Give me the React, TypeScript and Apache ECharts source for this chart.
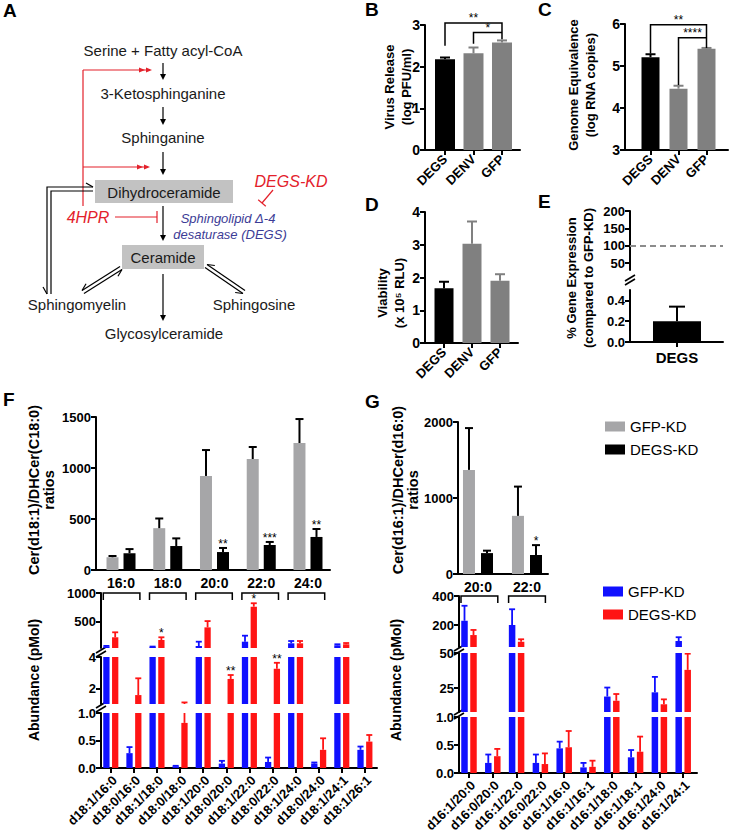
import React, { useEffect, useRef } from 'react';
import * as echarts from 'echarts';

const FONT = '"Liberation Sans", Arial, Helvetica, sans-serif';

/* ====================== DATA ====================== */
// Panels B, C, D
const knockdownCategories = ['DEGS', 'DENV', 'GFP'];
const virusRelease = [2.18, 2.32, 2.58];
const virusReleaseErr = [0.04, 0.14, 0.05];
const genomeEquivalence = [5.21, 4.46, 5.41];
const genomeEquivalenceErr = [0.07, 0.07, 0.02];
const viability = [1.67, 3.03, 1.9];
const viabilityErr = [0.2, 0.68, 0.2];
// significance brackets: [fromCat, toCat, level, leftEnd, rightEnd]
const virusSigBrackets = [[1, 3, 3.05, 2.5, 2.66], [2, 3, 2.82, 2.55, 2.82]];
const virusSigLabels = ['**', '*'];
const genomeSigBrackets = [[1, 3, 5.98, 5.3, 5.43], [2, 3, 5.67, 4.55, 5.67]];
const genomeSigLabels = ['**', '****'];

// Panel E
const expressionCategories = ['DEGS'];
const geneExpression = [0.2];
const geneExpressionErr = [0.14];
const expressionReference = [100];
const expressionUpperTicks = [50, 100, 150, 200];
const expressionLowerTicks = [0, 0.2, 0.4];

// Panel F (top): ratios
const fRatioCategories = ['16:0', '18:0', '20:0', '22:0', '24:0'];
const fRatioGFP = [125, 410, 922, 1088, 1245];
const fRatioGFPErr = [12, 95, 254, 118, 235];
const fRatioDEGS = [165, 235, 176, 245, 324];
const fRatioDEGSErr = [40, 75, 40, 30, 78];
const fRatioStars = ['', '', '**', '***', '**'];

// Panel F (bottom): abundance
const fSpecies = ['d18:1/16:0', 'd18:0/16:0', 'd18:1/18:0', 'd18:0/18:0', 'd18:1/20:0', 'd18:0/20:0',
  'd18:1/22:0', 'd18:0/22:0', 'd18:1/24:0', 'd18:0/24:0', 'd18:1/24:1', 'd18:1/26:1'];
const fAbundGFP = [65, 0.27, 60, 0.03, 75, 0.08, 150, 0.11, 122, 0.08, 87, 0.33];
const fAbundGFPErr = [12, 0.11, 5, 0.01, 75, 0.05, 105, 0.08, 40, 0.02, 18, 0.06];
const fAbundDEGS = [227, 1.57, 180, 0.82, 400, 2.6, 761, 3.25, 122, 0.33, 105, 0.48];
const fAbundDEGSErr = [87, 1.07, 47, 0.28, 110, 0.25, 60, 0.38, 40, 0.21, 22, 0.12];
const fAbundStars = ['', '', '*', '', '', '**', '*', '**', '', '', '', ''];
const fGroupPairs = [[1, 2], [3, 4], [5, 6], [7, 8], [9, 10]];
const fAbundTopTicks = [500, 1000];
const fAbundMidTicks = [2, 4];

// Panel G (top): ratios
const gRatioCategories = ['20:0', '22:0'];
const gRatioGFP = [1370, 765];
const gRatioGFPErr = [550, 385];
const gRatioDEGS = [275, 250];
const gRatioDEGSErr = [32, 130];
const gRatioStars = ['', '*'];

// Panel G (bottom): abundance
const gSpecies = ['d16:1/20:0', 'd16:0/20:0', 'd16:1/22:0', 'd16:0/22:0', 'd16:1/16:0', 'd16:1/16:1',
  'd16:1/18:0', 'd16:1/18:1', 'd16:1/24:0', 'd16:1/24:1'];
const gAbundGFP = [230, 0.18, 201, 0.18, 0.44, 0.1, 19, 0.28, 22, 91];
const gAbundGFPErr = [103, 0.15, 108, 0.15, 0.12, 0.08, 6.4, 0.13, 11, 26];
const gAbundDEGS = [132, 0.3, 86, 0.16, 0.46, 0.11, 16, 0.38, 13.5, 38];
const gAbundDEGSErr = [35, 0.13, 17, 0.19, 0.29, 0.11, 4.8, 0.27, 3.5, 11.5];
const gGroupPairs = [[1, 2], [3, 4]];
const gAbundTopTicks = [200, 400];
const gAbundMidTicks = [25, 50];

/* ====================== STYLE ====================== */
const BLACK = '#000000';
const GRAY_DARK = '#808080';
const GRAY_LIGHT = '#a6a6a8';
const BLUE = '#1010ff';
const RED = '#ff1414';
const PATH_RED = '#e3212b';
const PATH_BLUE = '#3c3c96';
const BOX = '#c2c2c2';
const knockdownColors = [BLACK, GRAY_DARK, GRAY_DARK];

/* ====================== HELPERS ====================== */
function grid(left: number, top: number, width: number, height: number) {
  return { left, top, width, height, containLabel: false, outerBoundsMode: 'none' };
}

function catX(gi: number, min: number, max: number, cats: string[], o: any = {}) {
  const idx = cats.map((_, i) => i + 1);
  return {
    type: 'value', gridIndex: gi, min, max,
    splitLine: { show: false },
    axisLine: { show: true, onZero: false, lineStyle: { color: '#000', width: 2 } },
    axisTick: { show: o.ticks !== false, customValues: idx, length: 5, lineStyle: { color: '#000', width: 2 } },
    axisLabel: {
      show: o.labels !== false, customValues: idx,
      formatter: (v: number) => cats[Math.round(v) - 1] ?? '',
      rotate: o.rotate ?? 0, margin: o.margin ?? 6,
      color: '#000', fontFamily: FONT, fontWeight: 'bold', fontSize: o.fontSize ?? 13,
    },
  };
}

function hiddenX(gi: number, min: number, max: number) {
  return { type: 'value', gridIndex: gi, min, max, show: false, splitLine: { show: false } };
}

function valY(gi: number, min: number, max: number, o: any = {}) {
  const label: any = {
    color: '#000', fontFamily: FONT, fontWeight: 'bold', fontSize: o.fontSize ?? 13, margin: o.margin ?? 5,
    formatter: o.fmt ?? ((v: number) => String(v)),
  };
  const tick: any = { show: true, length: 5, lineStyle: { color: '#000', width: 2 } };
  if (o.ticks) { label.customValues = o.ticks; tick.customValues = o.ticks; }
  return {
    type: 'value', gridIndex: gi, min, max, interval: o.interval,
    splitLine: { show: false },
    axisLine: { show: true, onZero: false, lineStyle: { color: '#000', width: 2 } },
    axisTick: tick, axisLabel: label,
  };
}

function bars(gi: number, name: string, xs: number[], vals: number[], color: any, width: number, extra: any = {}) {
  return {
    type: 'bar', name, xAxisIndex: gi, yAxisIndex: gi, barWidth: width, barGap: '-100%', silent: true,
    itemStyle: { color: Array.isArray(color) ? color[0] : color },
    data: vals.map((v, i) => (Array.isArray(color)
      ? { value: [xs[i], v], itemStyle: { color: color[i] } }
      : [xs[i], v])),
    ...extra,
  };
}

// error bars, clipped by value to the [lo, hi] range of the segment they are drawn in
function errs(gi: number, xs: number[], vals: number[], e: number[], color: any, capW: number, lw: number, range: number[]) {
  return {
    type: 'custom', xAxisIndex: gi, yAxisIndex: gi, clip: true, silent: true, z: 3,
    data: vals.map((v, i) => [xs[i], v, e[i]]),
    renderItem: (params: any, api: any) => {
      const i = params.dataIndex;
      const x = xs[i], v = vals[i], top = vals[i] + e[i];
      const lo = Math.max(v, range[0]);
      const hi = Math.min(top, range[1]);
      const c = Array.isArray(color) ? color[i] : color;
      const children: any[] = [];
      if (hi > lo) {
        const p0 = api.coord([x, lo]);
        const p1 = api.coord([x, hi]);
        children.push({ type: 'line', shape: { x1: p0[0], y1: p0[1], x2: p1[0], y2: p1[1] }, style: { stroke: c, lineWidth: lw } });
      }
      if (top >= range[0] && top <= range[1]) {
        const p1 = api.coord([x, top]);
        children.push({ type: 'line', shape: { x1: p1[0] - capW / 2, y1: p1[1], x2: p1[0] + capW / 2, y2: p1[1] }, style: { stroke: c, lineWidth: lw } });
      }
      return { type: 'group', children };
    },
  };
}

function stars(gi: number, xs: number[], vals: number[], e: number[], labels: string[], range: number[]) {
  return {
    type: 'custom', xAxisIndex: gi, yAxisIndex: gi, clip: false, silent: true, z: 4,
    data: vals.map((v, i) => [xs[i], v + e[i]]),
    renderItem: (params: any, api: any) => {
      const i = params.dataIndex;
      const top = vals[i] + e[i];
      if (!labels[i] || top < range[0] || top > range[1]) return { type: 'group', children: [] };
      const p = api.coord([xs[i], top]);
      return {
        type: 'text', x: p[0], y: p[1] + 2,
        style: { text: labels[i], fill: '#000', fontSize: 12, fontFamily: FONT, textAlign: 'center', textVerticalAlign: 'bottom' },
      };
    },
  };
}

function sigSeries(gi: number, brackets: number[][], labels: string[]) {
  return {
    type: 'custom', xAxisIndex: gi, yAxisIndex: gi, clip: false, silent: true, z: 4,
    data: brackets,
    renderItem: (params: any, api: any) => {
      const i = params.dataIndex;
      const [a, b, lvl, ya, yb] = brackets[i];
      const pA = api.coord([a, ya]);
      const pTL = api.coord([a, lvl]);
      const pTR = api.coord([b, lvl]);
      const pB = api.coord([b, yb]);
      return {
        type: 'group', children: [
          { type: 'polyline', shape: { points: [pA, pTL, pTR, pB] }, style: { stroke: '#000', lineWidth: 1.5, fill: 'none' } },
          { type: 'text', x: (pTL[0] + pTR[0]) / 2, y: pTL[1] + 1, style: { text: labels[i], fill: '#000', fontSize: 12, fontFamily: FONT, textAlign: 'center', textVerticalAlign: 'bottom' } },
        ],
      };
    },
  };
}

function groupBrackets(gi: number, pairs: number[][], level: number, leftPad: number, rightPad: number) {
  return {
    type: 'custom', xAxisIndex: gi, yAxisIndex: gi, clip: false, silent: true, z: 4,
    data: pairs,
    renderItem: (params: any, api: any) => {
      const [a, b] = pairs[params.dataIndex];
      const pa = api.coord([a, level]);
      const pb = api.coord([b, level]);
      const x1 = pa[0] - leftPad, x2 = pb[0] + rightPad, y = pa[1];
      return { type: 'polyline', shape: { points: [[x1, y + 7], [x1, y], [x2, y], [x2, y + 7]] }, style: { stroke: '#000', lineWidth: 1.5, fill: 'none' } };
    },
  };
}

// 45-degree category labels under an abundance axis
function rotLabels(gi: number, cats: string[], base: number) {
  return {
    type: 'custom', xAxisIndex: gi, yAxisIndex: gi, clip: false, silent: true, z: 5,
    data: cats.map((_, i) => [i + 1, base]),
    renderItem: (params: any, api: any) => {
      const i = params.dataIndex;
      const p = api.coord([i + 1, base]);
      return {
        type: 'text', x: p[0] + 4, y: p[1] + 10, rotation: Math.PI / 4,
        style: { text: cats[i], fill: '#000', fontSize: 13, fontWeight: 'bold', fontFamily: FONT, textAlign: 'right', textVerticalAlign: 'middle' },
      };
    },
  };
}

/* ---- graphic helpers (pathway diagram & decorations) ---- */
function txt(text: string, x: number, y: number, o: any = {}) {
  return {
    type: 'text', x, y, silent: true, rotation: o.rot ?? 0,
    style: {
      text, fill: o.fill ?? '#1a1a1a', fontSize: o.size ?? 15, fontFamily: FONT,
      fontWeight: o.weight ?? 'normal', fontStyle: o.style ?? 'normal',
      textAlign: o.align ?? 'center', textVerticalAlign: o.valign ?? 'middle', lineHeight: o.lh,
    },
  };
}
function ln(x1: number, y1: number, x2: number, y2: number, stroke = '#000', w = 1.2) {
  return { type: 'line', silent: true, shape: { x1, y1, x2, y2 }, style: { stroke, lineWidth: w } };
}
function pl(points: number[][], stroke = '#000', w = 1.2) {
  return { type: 'polyline', silent: true, shape: { points }, style: { stroke, lineWidth: w, fill: 'none' } };
}
function tri(points: number[][], fill: string) {
  return { type: 'polygon', silent: true, shape: { points }, style: { fill } };
}
function arrowDown(x: number, y1: number, y2: number) {
  return [ln(x, y1, x, y2 - 5), tri([[x - 3, y2 - 6], [x + 3, y2 - 6], [x, y2]], '#000')];
}
function redDoubleHead(xEnd: number, y: number) {
  return [
    tri([[xEnd, y], [xEnd - 6, y - 2.6], [xEnd - 6, y + 2.6]], PATH_RED),
    tri([[xEnd - 7, y], [xEnd - 13, y - 2.6], [xEnd - 13, y + 2.6]], PATH_RED),
  ];
}
function eqArrow(x1: number, y1: number, x2: number, y2: number) {
  const dx = x2 - x1, dy = y2 - y1, L = Math.hypot(dx, dy);
  const ux = dx / L, uy = dy / L;
  const nx = -uy * 1.8, ny = ux * 1.8;
  const a1 = [x1 + nx, y1 + ny], a2 = [x2 + nx, y2 + ny];
  const b1 = [x1 - nx, y1 - ny], b2 = [x2 - nx, y2 - ny];
  const barbA = [a2[0] - ux * 7 + nx * 2, a2[1] - uy * 7 + ny * 2];
  const barbB = [b1[0] + ux * 7 - nx * 2, b1[1] + uy * 7 - ny * 2];
  return [
    ln(a1[0], a1[1], a2[0], a2[1]), ln(b1[0], b1[1], b2[0], b2[1]),
    ln(a2[0], a2[1], barbA[0], barbA[1]), ln(b1[0], b1[1], barbB[0], barbB[1]),
  ];
}
function brk(x: number, y: number) {
  return [
    { type: 'rect', silent: true, shape: { x: x - 6, y: y - 3, width: 12, height: 6 }, style: { fill: '#fff' } },
    ln(x - 5, y + 1, x + 5, y - 5, '#000', 1.6),
    ln(x - 5, y + 5, x + 5, y - 1, '#000', 1.6),
  ];
}
function yTitle(text: string, x: number, y: number, size = 13, lh = 17) {
  return txt(text, x, y, { rot: Math.PI / 2, size, weight: 'bold', fill: '#000', lh });
}
function letter(t: string, x: number, y: number) {
  return txt(t, x, y, { size: 19, weight: 'bold', fill: '#000', align: 'left', valign: 'top' });
}

/* ====================== OPTION ====================== */
function buildOption() {
  const grids = [
    grid(425, 25, 95, 125),   // 0 B
    grid(625, 24, 103, 126),  // 1 C
    grid(425, 212, 93, 131),  // 2 D
    grid(630, 211, 93, 59),   // 3 E upper
    grid(630, 290, 93, 52),   // 4 E lower
    grid(96, 417, 234, 153),  // 5 F ratio
    grid(101, 593, 276, 55),  // 6 F abundance top
    grid(101, 657, 276, 47),  // 7 F abundance mid
    grid(101, 713, 276, 55),  // 8 F abundance low
    grid(458, 422, 90, 152),  // 9 G ratio
    grid(459, 596, 238, 51),  // 10 G abundance top
    grid(459, 653, 238, 59),  // 11 G abundance mid
    grid(459, 717, 238, 56),  // 12 G abundance low
  ];

  const XB = [0.298, 3.632], XC = [0.089, 3.768], XD = [0.321, 3.643], XE = [0, 1.979];
  const XF1 = [0.465, 5.471], XF2 = [0.576, 12.524], XG1 = [0.592, 2.429], XG2 = [0.58, 10.58];
  const OFF_F1 = 0.182, OFF_F2 = 0.19, OFF_G1 = 0.184, OFF_G2 = 0.189;

  const xAxis = [
    catX(0, XB[0], XB[1], knockdownCategories, { rotate: 45, margin: 7 }),
    catX(1, XC[0], XC[1], knockdownCategories, { rotate: 45, margin: 7 }),
    catX(2, XD[0], XD[1], knockdownCategories, { rotate: 45, margin: 7 }),
    hiddenX(3, XE[0], XE[1]),
    catX(4, XE[0], XE[1], expressionCategories, { fontSize: 15, margin: 8 }),
    catX(5, XF1[0], XF1[1], fRatioCategories, { ticks: false, fontSize: 14, margin: 6 }),
    hiddenX(6, XF2[0], XF2[1]),
    hiddenX(7, XF2[0], XF2[1]),
    catX(8, XF2[0], XF2[1], fSpecies, { labels: false }),
    catX(9, XG1[0], XG1[1], gRatioCategories, { ticks: false, fontSize: 14, margin: 6 }),
    hiddenX(10, XG2[0], XG2[1]),
    hiddenX(11, XG2[0], XG2[1]),
    catX(12, XG2[0], XG2[1], gSpecies, { labels: false }),
  ];

  const one = (v: number) => v.toFixed(1);
  const fRanges = [[40, 1000], [1, 4], [0, 1]];
  const gRanges = [[50, 400], [8, 50], [0, 1]];
  const yAxis = [
    valY(0, 0, 3, { interval: 1, fontSize: 14 }),
    valY(1, 3, 6, { interval: 1, fontSize: 14 }),
    valY(2, 0, 4, { interval: 1, fontSize: 14 }),
    valY(3, 30, 200, { ticks: expressionUpperTicks, fontSize: 13 }),
    valY(4, 0, 0.5, { ticks: expressionLowerTicks, fontSize: 13, fmt: one }),
    valY(5, 0, 1500, { interval: 500 }),
    valY(6, fRanges[0][0], fRanges[0][1], { ticks: fAbundTopTicks }),
    valY(7, fRanges[1][0], fRanges[1][1], { ticks: fAbundMidTicks }),
    valY(8, fRanges[2][0], fRanges[2][1], { interval: 0.5, fmt: one }),
    valY(9, 0, 2000, { interval: 1000 }),
    valY(10, gRanges[0][0], gRanges[0][1], { ticks: gAbundTopTicks }),
    valY(11, gRanges[1][0], gRanges[1][1], { ticks: gAbundMidTicks }),
    valY(12, gRanges[2][0], gRanges[2][1], { interval: 0.5, fmt: one }),
  ];

  const xsK = knockdownCategories.map((_, i) => i + 1);
  const xsE = expressionCategories.map((_, i) => i + 1);
  const xsF1g = fRatioCategories.map((_, i) => i + 1 - OFF_F1);
  const xsF1d = fRatioCategories.map((_, i) => i + 1 + OFF_F1);
  const xsF2g = fSpecies.map((_, i) => i + 1 - OFF_F2);
  const xsF2d = fSpecies.map((_, i) => i + 1 + OFF_F2);
  const xsG1g = gRatioCategories.map((_, i) => i + 1 - OFF_G1);
  const xsG1d = gRatioCategories.map((_, i) => i + 1 + OFF_G1);
  const xsG2g = gSpecies.map((_, i) => i + 1 - OFF_G2);
  const xsG2d = gSpecies.map((_, i) => i + 1 + OFF_G2);

  const series: any[] = [];
  // B
  series.push(bars(0, 'B', xsK, virusRelease, knockdownColors, 20));
  series.push(errs(0, xsK, virusRelease, virusReleaseErr, knockdownColors, 10, 2, [0, 3]));
  series.push(sigSeries(0, virusSigBrackets, virusSigLabels));
  // C
  series.push(bars(1, 'C', xsK, genomeEquivalence, knockdownColors, 18));
  series.push(errs(1, xsK, genomeEquivalence, genomeEquivalenceErr, knockdownColors, 10, 2, [3, 6]));
  series.push(sigSeries(1, genomeSigBrackets, genomeSigLabels));
  // D
  series.push(bars(2, 'D', xsK, viability, knockdownColors, 19));
  series.push(errs(2, xsK, viability, viabilityErr, knockdownColors, 10, 2, [0, 4]));
  // E
  series.push(bars(3, 'E', xsE, geneExpression, BLACK, 48, {
    markLine: {
      silent: true, symbol: ['none', 'none'], label: { show: false },
      lineStyle: { type: [6, 4], color: '#8c8c8c', width: 2 },
      data: expressionReference.map((v) => ({ yAxis: v })),
    },
  }));
  series.push(bars(4, 'E', xsE, geneExpression, BLACK, 48));
  series.push(errs(4, xsE, geneExpression, geneExpressionErr, BLACK, 16, 2, [0, 0.5]));
  // F ratio
  series.push(bars(5, 'GFP-KD', xsF1g, fRatioGFP, GRAY_LIGHT, 12));
  series.push(bars(5, 'DEGS-KD', xsF1d, fRatioDEGS, BLACK, 12));
  series.push(errs(5, xsF1g, fRatioGFP, fRatioGFPErr, BLACK, 8, 2, [0, 1500]));
  series.push(errs(5, xsF1d, fRatioDEGS, fRatioDEGSErr, BLACK, 8, 2, [0, 1500]));
  series.push(stars(5, xsF1d, fRatioDEGS, fRatioDEGSErr, fRatioStars, [0, 1500]));
  // F abundance (3 segments)
  [6, 7, 8].forEach((gi, k) => {
    series.push(bars(gi, 'GFP-KD ', xsF2g, fAbundGFP, BLUE, 6.3));
    series.push(bars(gi, 'DEGS-KD ', xsF2d, fAbundDEGS, RED, 6.3));
    series.push(errs(gi, xsF2g, fAbundGFP, fAbundGFPErr, BLUE, 6, 1.8, fRanges[k]));
    series.push(errs(gi, xsF2d, fAbundDEGS, fAbundDEGSErr, RED, 6, 1.8, fRanges[k]));
    series.push(stars(gi, xsF2d, fAbundDEGS, fAbundDEGSErr, fAbundStars, fRanges[k]));
  });
  series.push(groupBrackets(6, fGroupPairs, 1000, 7.5, 6));
  series.push(rotLabels(8, fSpecies, 0));
  // G ratio
  series.push(bars(9, 'GFP-KD', xsG1g, gRatioGFP, GRAY_LIGHT, 12));
  series.push(bars(9, 'DEGS-KD', xsG1d, gRatioDEGS, BLACK, 12));
  series.push(errs(9, xsG1g, gRatioGFP, gRatioGFPErr, BLACK, 8, 2, [0, 2000]));
  series.push(errs(9, xsG1d, gRatioDEGS, gRatioDEGSErr, BLACK, 8, 2, [0, 2000]));
  series.push(stars(9, xsG1d, gRatioDEGS, gRatioDEGSErr, gRatioStars, [0, 2000]));
  // G abundance (3 segments)
  [10, 11, 12].forEach((gi, k) => {
    series.push(bars(gi, 'GFP-KD ', xsG2g, gAbundGFP, BLUE, 6.5));
    series.push(bars(gi, 'DEGS-KD ', xsG2d, gAbundDEGS, RED, 6.5));
    series.push(errs(gi, xsG2g, gAbundGFP, gAbundGFPErr, BLUE, 6, 1.8, gRanges[k]));
    series.push(errs(gi, xsG2d, gAbundDEGS, gAbundDEGSErr, RED, 6, 1.8, gRanges[k]));
  });
  series.push(groupBrackets(10, gGroupPairs, 400, 8, 5));
  series.push(rotLabels(12, gSpecies, 0));

  const legendText = { fontFamily: FONT, fontSize: 15, color: '#000' };
  const legend = [
    {
      data: ['GFP-KD', 'DEGS-KD'], left: 605, top: 419, orient: 'vertical', icon: 'rect',
      itemWidth: 20, itemHeight: 10, itemGap: 8, padding: 0, selectedMode: false, textStyle: legendText,
    },
    {
      data: ['GFP-KD ', 'DEGS-KD '], left: 603, top: 584, orient: 'vertical', icon: 'rect',
      itemWidth: 20, itemHeight: 10, itemGap: 8, padding: 0, selectedMode: false, textStyle: legendText,
      formatter: (n: string) => n.trim(),
    },
  ];

  /* ---- pathway diagram (panel A) ---- */
  const A: any[] = [
    { type: 'rect', silent: true, shape: { x: 95, y: 180, width: 138, height: 23 }, style: { fill: BOX } },
    { type: 'rect', silent: true, shape: { x: 122, y: 245, width: 82, height: 24 }, style: { fill: BOX } },
    txt('Serine + Fatty acyl-CoA', 163, 50),
    txt('3-Ketosphinganine', 163, 93),
    txt('Sphinganine', 163, 137),
    txt('Dihydroceramide', 164, 192),
    txt('Ceramide', 163, 257),
    txt('Sphingomyelin', 77, 304),
    txt('Sphingosine', 254, 304),
    txt('Glycosylceramide', 164, 333),
    txt('4HPR', 88, 217, { fill: PATH_RED, size: 16, style: 'italic' }),
    txt('DEGS-KD', 291, 181, { fill: PATH_RED, size: 16, style: 'italic' }),
    txt('Sphingolipid Δ-4', 228, 218, { fill: PATH_BLUE, size: 13, style: 'italic' }),
    txt('desaturase (DEGS)', 230, 234, { fill: PATH_BLUE, size: 13, style: 'italic' }),
    ...arrowDown(163, 63, 80),
    ...arrowDown(163, 107, 125),
    ...arrowDown(163, 152, 175),
    ...arrowDown(163, 206, 241),
    ...arrowDown(163, 274, 321),
    // red feedback
    ln(83, 70, 83, 206, PATH_RED),
    ln(83, 70, 150, 70, PATH_RED), ...redDoubleHead(152, 70),
    ln(83, 167, 148, 167, PATH_RED), ...redDoubleHead(150, 167),
    // 4HPR inhibition
    ln(115, 217, 157, 217, PATH_RED), ln(157, 211, 157, 223, PATH_RED),
    // DEGS-KD inhibition
    ln(273, 190, 262, 203, PATH_RED), ln(258.2, 199.8, 265.8, 206.2, PATH_RED),
    // Dihydroceramide <-> Sphingomyelin
    pl([[93, 187], [47, 187], [47, 294]]),
    pl([[93, 191], [51, 191], [51, 294]]),
    ln(93, 187, 86, 183),
    ln(47, 294, 43, 287),
    // Ceramide <-> Sphingomyelin / Sphingosine
    ...eqArrow(121, 268, 83, 292),
    ...eqArrow(206, 266, 244, 292),
  ];

  const deco: any[] = [
    letter('A', 3, 1), letter('B', 365, 0), letter('C', 538, 0), letter('D', 365, 195),
    letter('E', 538, 192), letter('F', 3, 390), letter('G', 365, 392),
    yTitle('Virus Release\n(log PFU/ml)', 398, 87),
    yTitle('Genome Equivalence\n(log RNA copies)', 582, 85),
    yTitle('Viability\n(x 10⁵ RLU)', 391, 293),
    yTitle('% Gene Expression\n(compared to GFP-KD)', 580, 278),
    yTitle('Cer(d18:1)/DHCer(C18:0)\nratios', 41, 490, 14.5, 15),
    yTitle('Abundance (pMol)', 34, 680, 14),
    yTitle('Cer(d16:1)/DHCer(d16:0)\nratios', 405, 490, 14.5, 15),
    yTitle('Abundance (pMol)', 396, 680, 14),
    ...brk(630, 280),
    ...brk(101, 652),
    ...brk(101, 707),
    ...brk(459, 650),
    ...brk(459, 714),
  ];

  return {
    animation: false,
    backgroundColor: '#ffffff',
    textStyle: { fontFamily: FONT },
    grid: grids,
    xAxis,
    yAxis,
    legend,
    series,
    graphic: { elements: [...A, ...deco] },
  };
}

export default function App() {
  const ref = useRef<HTMLDivElement>(null);
  useEffect(() => {
    if (!ref.current) return;
    const chart = echarts.init(ref.current, null, { renderer: 'svg' });
    chart.setOption(buildOption() as any);
    return () => chart.dispose();
  }, []);
  return (
    <div
      ref={ref}
      style={{ position: 'absolute', left: 0, top: 0, width: 730, height: 836, background: '#ffffff' }}
    />
  );
}
